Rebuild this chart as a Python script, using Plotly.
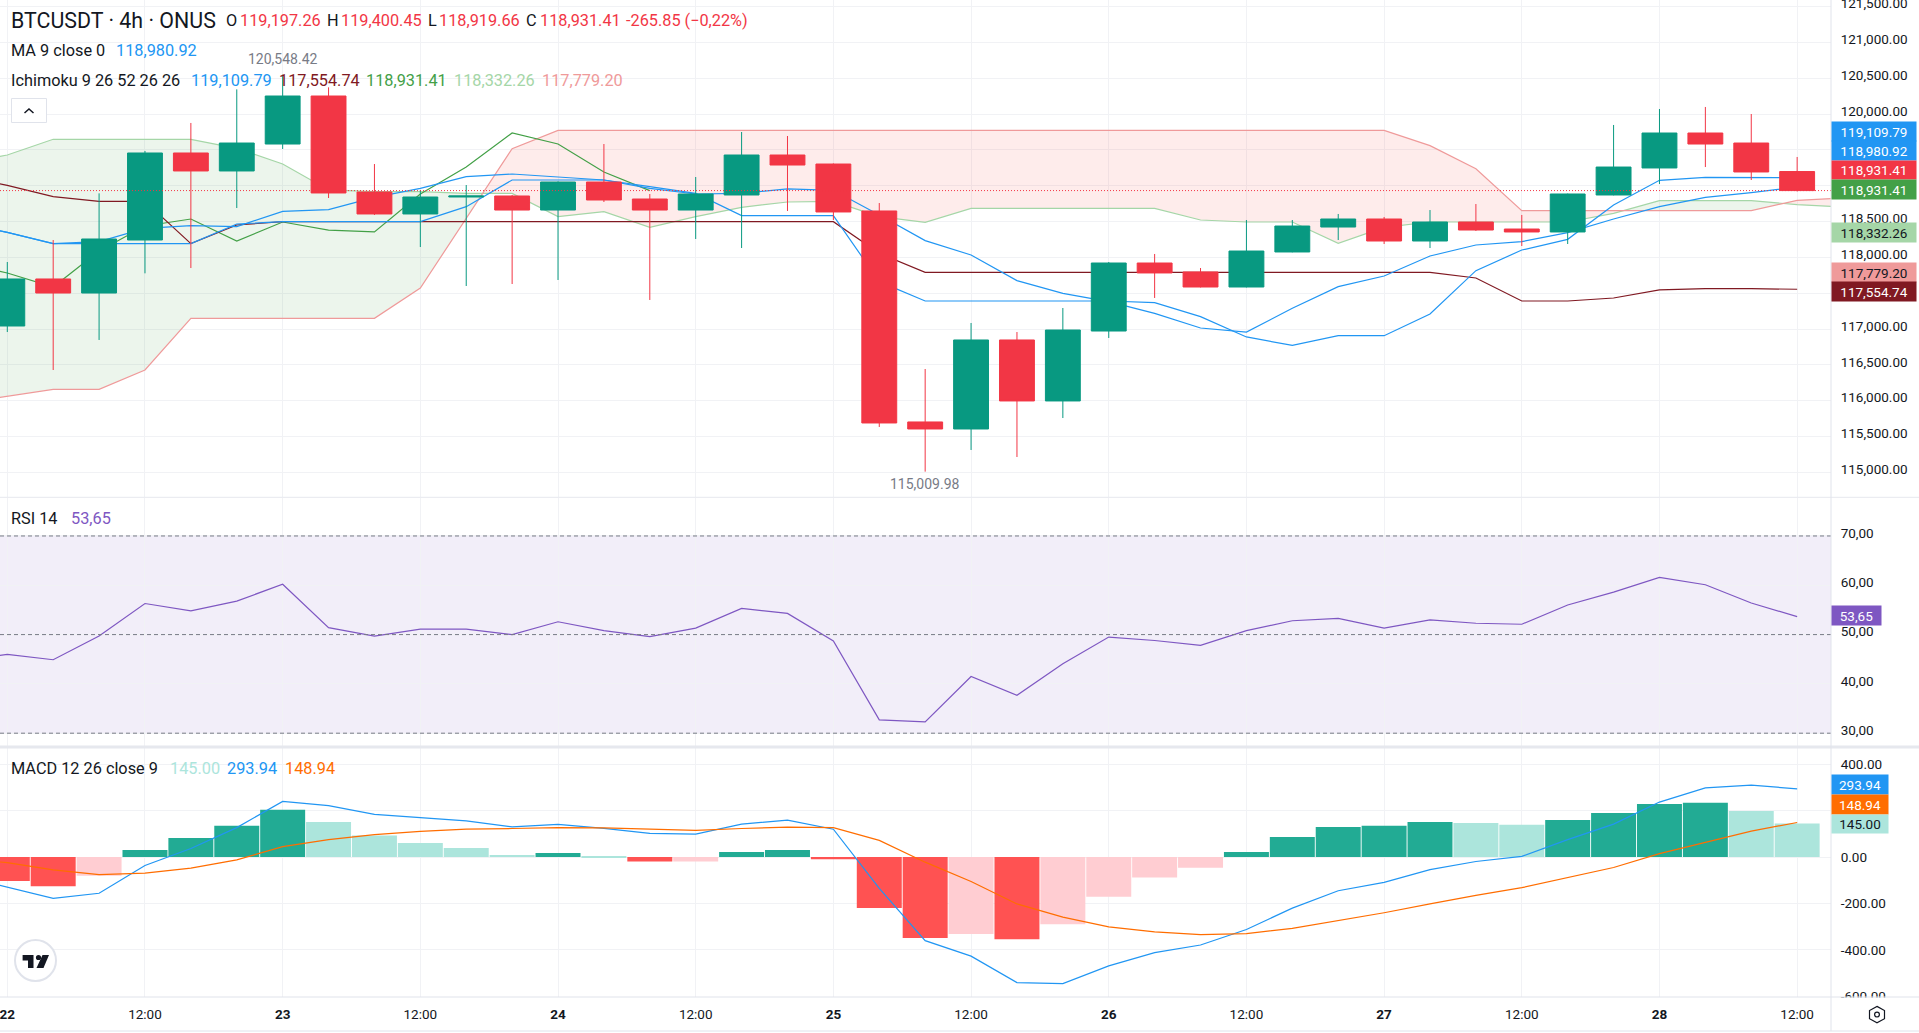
import pandas as pd
import plotly.graph_objects as go

W, H = 1919, 1033

# 4h bars, first one is 22 Jul 00:00
opens = [117042,117698,117502,118242,119456,119205,119581,120251,118912,118605,118842,118856,118660,119051,118814,118660,118870,119428,119302,118647,
         115703,115605,116847,115996,116972,117921,117796,117586,118075,118423,118535,118228,118493,118395,118354,118870,119247,119735,119595,119197.26]
highs = [117935,118242,118893,119484,119875,120344,120548.42,120372,119302,118940,119009,118870,119060,119581,118884,119121,119749,119693,119310,118758,
         116442,117084,116958,117293,117935,118047,117851,118521,118521,118605,118563,118660,118744,118591,118890,119847,120070,120098,120000,119400.45]
lows = [116958,116428,116847,117777,117851,118688,119512,118828,118591,118144,117600,117628,117684,118772,117405,118256,118130,118647,118521,115633,
        115009.98,115312,115214,115758,116875,117433,117580,117580,118070,118242,118186,118130,118368,118158,118186,118865,119023,119260,119079,118919.66]
closes = [117698,117502,118256,119456,119205,119595,120251,118898,118605,118842,118856,118660,119051,118800,118660,118884,119428,119288,118633,115689,
          115605,116847,115996,116986,117921,117782,117586,118088,118437,118535,118228,118493,118381,118354,118884,119260,119735,119581,119191,118931.41]

# the lines start one bar before the left edge
ma9 = [118474,118349,118191,118219,118405,118442,118428,118642,118665,118837,118963,119126,119163,119126,119079,118963,118884,118893,118954,118935,118591,
       118233,118033,117675,117498,117382,117219,117014,116958,117289,117591,117740,118019,118172,118219,118345,118535,118707,118837,118902,118980.92]
tenkan = [118474,118349,118191,118191,118191,118191,118465,118498,118498,118498,118498,118707,119079,119079,119079,118986,118893,118582,118582,118582,117661,
          117391,117391,117391,117391,117391,117368,117172,116889,116772,116907,116907,117210,117814,118102,118251,118730,119075,119116,119116,119109.79]
kijun = [119126,119005,118847,118781,118781,118191,118451,118498,118498,118498,118498,118498,118498,118498,118498,118498,118498,118498,118498,118498,118056,
         117791,117791,117791,117791,117791,117791,117791,117791,117791,117791,117791,117791,117712,117391,117391,117433,117545,117563,117563,117554.74]
chikou = [117921,117782,117586,118088,118437,118535,118228,118493,118381,118354,118884,119260,119735,119581,119191,118931.41]
lead1 = [119312,119428,119647,119647,119647,119647,119521,119302,118940,118916,118916,118893,118893,118568,118637,118419,118568,118698,118772,118781,118568,
         118488,118684,118684,118684,118684,118684,118521,118493,118493,118195,118419,118493,118493,118493,118493,118614,118791,118791,118791,118735,118702]
lead2 = [115963,116065,116158,116158,116428,117149,117149,117149,117149,117149,117572,118544,119516,119772,119772,119772,119772,119772,119772,119772,119772,
         119772,119772,119772,119772,119772,119772,119772,119772,119772,119772,119772,119558,119237,118651,118651,118651,118651,118651,118651,118796,118828]

rsi = [44.5,46.0,44.9,49.7,56.3,54.8,56.8,60.2,51.4,49.7,51.1,51.1,50.0,52.6,50.8,49.6,51.3,55.3,54.3,48.7,32.7,
       32.3,41.5,37.7,44.1,49.5,48.8,47.8,50.8,52.8,53.3,51.3,53.0,52.3,52.1,56.0,58.6,61.6,60.1,56.4,53.65]

hist = [-103,-126,-81,30,82,135,204,151,93,61,39,9,18,2,-19,-19,22,30,-9,-219,
        -349,-331,-354,-289,-171,-88,-46,22,87,130,135,151,147,139,160,190,229,234,199,145]
hist_colors = ["#ff5252","#ff5252","#ffcdd2","#22ab94","#22ab94","#22ab94","#22ab94","#ace5dc","#ace5dc","#ace5dc",
               "#ace5dc","#ace5dc","#22ab94","#ace5dc","#ff5252","#ffcdd2","#22ab94","#22ab94","#ff5252","#ff5252",
               "#ff5252","#ffcdd2","#ff5252","#ffcdd2","#ffcdd2","#ffcdd2","#ffcdd2","#22ab94","#22ab94","#22ab94",
               "#22ab94","#22ab94","#ace5dc","#ace5dc","#22ab94","#22ab94","#22ab94","#22ab94","#ace5dc","#ace5dc"]
macd = [-82,-130,-178,-156,-36,37,127,240,222,184,169,156,130,141,124,102,99,142,159,120,-135,
        -360,-427,-541,-545,-469,-412,-379,-312,-220,-145,-109,-54,-19,3,75,142,237,298,310,293.94]
signal = [-7,-24,-55,-76,-69,-48,-12,45,75,97,111,120,123,127,126,120,115,123,129,127,72,
          -22,-105,-202,-259,-301,-322,-334,-330,-307,-274,-240,-202,-165,-132,-90,-45,15,64,112,148.94]

price_ticks = [115000,115500,116000,116500,117000,117500,118000,118500,119000,119500,120000,120500,121000,121500]
# the ones behind the value tags stay blank, their gridlines are kept
price_labels = ["115,000.00","115,500.00","116,000.00","116,500.00","117,000.00","","118,000.00","118,500.00","","",
                "120,000.00","120,500.00","121,000.00","121,500.00"]
rsi_ticks = [30,40,50,60,70]
rsi_labels = ["30,00","40,00","50,00","60,00","70,00"]
macd_ticks = [-600,-400,-200,0,200,400]
macd_labels = ["-600.00","-400.00","-200.00","0.00","","400.00"]
time_labels = ["<b>22</b>","12:00","<b>23</b>","12:00","<b>24</b>","12:00","<b>25</b>","12:00",
               "<b>26</b>","12:00","<b>27</b>","12:00","<b>28</b>","12:00"]

all_dates = pd.date_range("2025-07-21 20:00", periods=42, freq="4h")
dates = all_dates[1:41]
time_ticks = list(all_dates[1::3][:14])
last_close = closes[-1]

FONT = "Roboto"
DARK = "#131722"
GRID = "#f1f2f5"
GREEN = "#089981"
RED = "#f23645"
BLUE = "#2196f3"
PURPLE = "#7e57c2"
ORANGE = "#ff6d00"
AXIS_X = 1831


def px(x):
    return x / W


def py(y):
    return 1 - y / H


def line(x, y, color, width=1.2, axes=("x", "y")):
    return go.Scatter(x=x, y=y, mode="lines", line=dict(color=color, width=width),
                      xaxis=axes[0], yaxis=axes[1], hoverinfo="skip", showlegend=False)


# split the cloud where the two spans cross, green when lead1 is on top
def cloud_polys():
    t = [d.value for d in all_dates]
    polys = []
    cur_x, cur_a, cur_b = [t[0]], [lead1[0]], [lead2[0]]
    for i in range(1, len(t)):
        d0 = lead1[i - 1] - lead2[i - 1]
        d1 = lead1[i] - lead2[i]
        if d0 * d1 < 0:
            k = d0 / (d0 - d1)
            xc = t[i - 1] + k * (t[i] - t[i - 1])
            yc = lead1[i - 1] + k * (lead1[i] - lead1[i - 1])
            cur_x.append(xc); cur_a.append(yc); cur_b.append(yc)
            polys.append((cur_x, cur_a, cur_b, d0 > 0))
            cur_x, cur_a, cur_b = [xc], [yc], [yc]
        cur_x.append(t[i]); cur_a.append(lead1[i]); cur_b.append(lead2[i])
    polys.append((cur_x, cur_a, cur_b, lead1[-1] > lead2[-1]))
    return polys


fig = go.Figure()

for xs, a, b, up in cloud_polys():
    xs = list(pd.to_datetime(xs))
    fig.add_trace(go.Scatter(x=xs + xs[::-1], y=a + b[::-1], mode="none", fill="toself",
                             fillcolor="rgba(67,160,71,0.1)" if up else "rgba(244,67,54,0.1)",
                             hoverinfo="skip", showlegend=False))

fig.add_trace(line(all_dates, lead1, "#a5d6a7"))
fig.add_trace(line(all_dates, lead2, "#ef9a9a"))
fig.add_trace(line(all_dates[:16], chikou, "#43a047"))
fig.add_trace(line(all_dates[:41], kijun, "#801922"))
fig.add_trace(line(all_dates[:41], tenkan, BLUE))
fig.add_trace(line(all_dates[:41], ma9, BLUE))

# candles go on an overlay axis, otherwise the lines end up over them
fig.add_trace(go.Candlestick(x=dates, open=opens, high=highs, low=lows, close=closes,
                             increasing=dict(line=dict(color=GREEN, width=1), fillcolor=GREEN),
                             decreasing=dict(line=dict(color=RED, width=1), fillcolor=RED),
                             xaxis="x4", yaxis="y4", hoverinfo="skip", showlegend=False))

fig.add_trace(line(all_dates[:41], rsi, PURPLE, axes=("x2", "y2")))

fig.add_trace(go.Bar(x=dates, y=hist, marker=dict(color=hist_colors, line=dict(width=0)),
                     xaxis="x3", yaxis="y3", hoverinfo="skip", showlegend=False))
fig.add_trace(line(all_dates[:41], macd, BLUE, axes=("x3", "y3")))
fig.add_trace(line(all_dates[:41], signal, ORANGE, axes=("x3", "y3")))

# left and right edges of the plot area
t0 = pd.Timestamp("2025-07-22 00:00")
x_range = [t0 - pd.Timedelta(hours=0.636), t0 + pd.Timedelta(hours=158.95)]
x_dom = [0, px(AXIS_X)]

tick_font = dict(family=FONT, size=13.5, color=DARK)


# automargin has to stay off, the template turns it on and that squeezes the panes
def x_axis(anchor, labels=False):
    return dict(domain=x_dom, anchor=anchor, range=x_range, tickmode="array", tickvals=time_ticks,
                ticktext=time_labels, showticklabels=labels, showgrid=True, gridcolor=GRID, gridwidth=1,
                zeroline=False, showline=False, ticks="outside" if labels else "", ticklen=5,
                tickcolor="rgba(0,0,0,0)", tickfont=tick_font, rangeslider=dict(visible=False),
                ticklabeloverflow="allow", automargin=False)


def y_axis(anchor, dom, rng, ticks, labels, shift=0):
    return dict(domain=dom, anchor=anchor, range=rng, side="right", tickmode="array", tickvals=ticks,
                ticktext=labels, showgrid=True, gridcolor=GRID, gridwidth=1, zeroline=False, showline=False,
                ticks="outside", ticklen=6, tickcolor="rgba(0,0,0,0)", tickfont=tick_font,
                ticklabeloverflow="allow", automargin=False, ticklabelshift=shift)


price_range = [114656, 121590.7]

fig.update_layout(
    width=W, height=H, autosize=False,
    margin=dict(l=0, r=0, t=0, b=0),
    paper_bgcolor="white", plot_bgcolor="white",
    bargap=0.02, boxgap=0.24, boxgroupgap=0, showlegend=False,
    xaxis=x_axis("y"),
    xaxis2=x_axis("y2"),
    xaxis3=x_axis("y3", labels=True),
    xaxis4=dict(overlaying="x", anchor="y4", range=x_range, visible=False, rangeslider=dict(visible=False), automargin=False),
    yaxis=y_axis("x", [py(497), 1], price_range, price_ticks, price_labels, shift=-3),
    yaxis2=y_axis("x2", [py(747), py(498)], [27.2, 77.7], rsi_ticks, rsi_labels, shift=-3),
    yaxis3=y_axis("x3", [py(997), py(748)], [-603, 470], macd_ticks, macd_labels),
    yaxis4=dict(overlaying="y", anchor="x4", range=price_range, visible=False, automargin=False),
)

shapes = []


def hline(y, color, width=1, dash="solid", yref="y", x1=AXIS_X, layer="above"):
    shapes.append(dict(type="line", xref="paper", yref=yref, x0=0, x1=px(x1), y0=y, y1=y, layer=layer,
                       line=dict(color=color, width=width, dash=dash)))


# rsi band and levels
shapes.append(dict(type="rect", xref="x2", yref="y2", x0=x_range[0], x1=x_range[1], y0=30, y1=70,
                   fillcolor="rgba(126,87,194,0.1)", line=dict(width=0), layer="below"))
for lvl in [70, 50, 30]:
    hline(lvl, "#787b86", dash="4px,3px", yref="y2")
hline(last_close, RED, dash="1px,2px")

# covers the half tick label that sits under the time axis row
shapes.append(dict(type="rect", xref="paper", yref="paper", x0=px(AXIS_X + 1), x1=1, y0=0, y1=py(997.5),
                   fillcolor="white", line=dict(width=0), layer="above"))

# pane separators
hline(py(497.3), "#e6e8ee", yref="paper", x1=W)
hline(py(747), "#e6e8ee", width=3, yref="paper", x1=W)
hline(py(997), "#e0e3eb", yref="paper", x1=W)
hline(py(1031), "#e0e3eb", yref="paper", x1=W)
shapes.append(dict(type="line", xref="paper", yref="paper", x0=px(AXIS_X), x1=px(AXIS_X), y0=py(1031), y1=1,
                   line=dict(color="#e0e3eb", width=1), layer="above"))


def path(points, close=True):
    s = "M " + " L ".join(f"{px(a):.5f},{py(b):.5f}" for a, b in points)
    return s + (" Z" if close else "")


def icon(points, fill=None, color=None, width=1):
    shapes.append(dict(type="path", xref="paper", yref="paper", path=path(points),
                       fillcolor=fill or "rgba(0,0,0,0)",
                       line=dict(color=color or "rgba(0,0,0,0)", width=width if color else 0), layer="above"))


def round_dot(x, y, r, fill="white", color=None, width=1):
    shapes.append(dict(type="circle", xref="paper", yref="paper", x0=px(x - r), x1=px(x + r), y0=py(y + r), y1=py(y - r),
                       fillcolor=fill, line=dict(color=color or "rgba(0,0,0,0)", width=width if color else 0), layer="above"))


# collapse button
shapes.append(dict(type="rect", xref="paper", yref="paper", x0=px(11.5), x1=px(46.5), y0=py(122.5), y1=py(98.5),
                   fillcolor="white", line=dict(color="#e0e3eb", width=1), layer="above"))
shapes.append(dict(type="path", xref="paper", yref="paper", path=path([(24.5, 113), (29, 109), (33.5, 113)], close=False),
                   line=dict(color=DARK, width=1.5), layer="above"))

# tv logo
round_dot(35.5, 960.5, 20.5, color="#e0e3eb", width=2)
icon([(22.6, 955), (33.5, 955), (33.5, 968), (28, 968), (28, 960.5), (22.6, 960.5)], fill="#131722")
round_dot(38.5, 957.5, 2.6, fill="#131722")
icon([(42.5, 955), (49, 955), (43.5, 968), (36.5, 968)], fill="#131722")

# settings hexagon
icon([(1877, 1006.4), (1884.5, 1010.5), (1884.5, 1018.7), (1877, 1022.8), (1869.5, 1018.7), (1869.5, 1010.5)], color="#131722", width=1.2)
round_dot(1877, 1014.6, 2.4, color="#131722", width=1.2)

fig.update_layout(shapes=shapes)


def text(x, y, s, color=DARK, size=16.3, anchor="left"):
    fig.add_annotation(xref="paper", yref="paper", x=px(x), y=py(y), text=s, showarrow=False,
                       xanchor=anchor, yanchor="middle", font=dict(family=FONT, size=size, color=color))


text(8.5, 20, "BTCUSDT · 4h · ONUS", size=21.4)
for x, s in [(224, "O"), (325, "H"), (426, "L"), (524, "C")]:
    text(x, 20, s)
for x, s in [(238, "119,197.26"), (339, "119,400.45"), (437, "118,919.66"), (538, "118,931.41"), (624, "-265.85 (−0,22%)")]:
    text(x, 20, s, color=RED)

text(8.5, 50, "MA 9 close 0")
text(113.5, 50, "118,980.92", color=BLUE)

text(8.5, 80, "Ichimoku 9 26 52 26 26")
for x, s, c in [(189, "119,109.79", BLUE), (277, "117,554.74", "#801922"), (364, "118,931.41", "#43a047"),
                (452, "118,332.26", "#a5d6a7"), (540, "117,779.20", "#ef9a9a")]:
    text(x, 80, s, color=c)

text(283, 58.7, "120,548.42", color="#787b86", size=14, anchor="center")
text(924.7, 483.7, "115,009.98", color="#787b86", size=14, anchor="center")

text(8.5, 518.4, "RSI 14")
text(69, 518.4, "53,65", color=PURPLE)

text(8.5, 768, "MACD 12 26 close 9")
for x, s, c in [(168, "145.00", "#ace5dc"), (225, "293.94", BLUE), (283, "148.94", ORANGE)]:
    text(x, 768, s, color=c)


def tag(x1, y0, y1, s, bg, fg="white"):
    fig.add_annotation(xref="paper", yref="paper", x=px(AXIS_X), y=py((y0 + y1) / 2), text=s, showarrow=False,
                       xanchor="left", yanchor="middle", width=x1 - AXIS_X, height=y1 - y0, bgcolor=bg, align="center",
                       borderpad=0, font=dict(family=FONT, size=13.5, color=fg))


tag(1915, 122, 141, "119,109.79", BLUE)
tag(1915, 141, 160, "118,980.92", BLUE)
tag(1915, 161, 179, "118,931.41", RED)
tag(1915, 180, 199, "118,931.41", "#43a047")
tag(1915, 223, 242, "118,332.26", "#a5d6a7", DARK)
tag(1915, 263, 282, "117,779.20", "#ef9a9a", DARK)
tag(1915, 282, 301, "117,554.74", "#801922")
tag(1880, 606, 625, "53,65", PURPLE)
tag(1887, 775, 794, "293.94", BLUE)
tag(1887, 795, 814, "148.94", ORANGE)
tag(1887, 815, 833, "145.00", "#ace5dc", DARK)

fig.write_html("out.html", config=dict(displayModeBar=False), post_script="document.body.style.margin='0';document.body.style.overflow='hidden';")
